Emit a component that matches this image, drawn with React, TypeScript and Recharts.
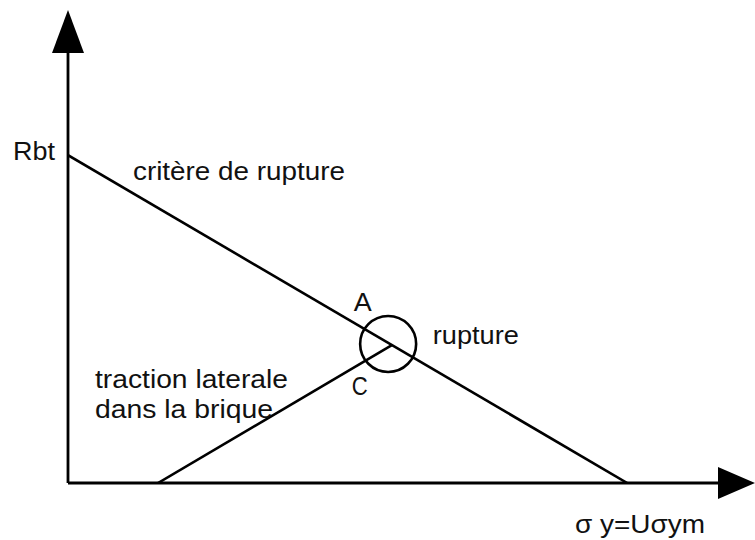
import { LineChart, Line, XAxis, YAxis, ReferenceLine, ReferenceDot } from "recharts";

// Schematic: failure criterion vs lateral tension in the brick (units 0–100 on both axes)
const RBT = 69.3;
const failureLine = [
  { x: 0, y: RBT },
  { x: 81.4, y: 0 },
];
const tractionLine = [
  { x: 13.1, y: 0 },
  { x: 47.2, y: 29.2 },
];
const rupturePoint = { x: 46.6, y: 29.4 };

const labels = [
  { text: "Rbt", x: -8.0, y: 68.3, width: 42 },
  { text: "critère de rupture", x: 9.46, y: 64.06, width: 212 },
  { text: "A", x: 41.6, y: 36.4, width: 18 },
  { text: "rupture", x: 53.1, y: 29.4, width: 86 },
  { text: "C", x: 41.3, y: 18.6, width: 16 },
  { text: "traction laterale", x: 3.93, y: 20.08, width: 193 },
  { text: "dans la brique", x: 3.93, y: 13.74, width: 178 },
  { text: "σ y=Uσym", x: 73.8, y: -10.57, width: 130 },
];

const FONT = "'Liberation Sans', Arial, sans-serif";

function UpArrow({ cx, cy }: { cx?: number; cy?: number }) {
  if (cx == null || cy == null) return null;
  return <polygon points={`${cx},${cy} ${cx - 16},${cy + 43} ${cx + 16},${cy + 43}`} fill="#000" />;
}

function RightArrow({ cx, cy }: { cx?: number; cy?: number }) {
  if (cx == null || cy == null) return null;
  return <polygon points={`${cx},${cy} ${cx - 37},${cy - 16} ${cx - 37},${cy + 16}`} fill="#000" />;
}

export default function App() {
  return (
    <div style={{ position: "absolute", left: 0, top: 0, background: "#fff" }}>
      <LineChart width={755} height={540} margin={{ top: 10, right: 0, bottom: 57, left: 68 }}>
        <XAxis dataKey="x" type="number" domain={[0, 100]} hide allowDataOverflow />
        <YAxis type="number" domain={[0, 100]} hide allowDataOverflow />
        <ReferenceLine
          segment={[{ x: 0, y: 0 }, { x: 96, y: 0 }]}
          stroke="#000"
          strokeWidth={2.8}
          ifOverflow="visible"
        />
        <ReferenceLine
          segment={[{ x: 0, y: 0 }, { x: 0, y: 95 }]}
          stroke="#000"
          strokeWidth={2.8}
          ifOverflow="visible"
        />
        <ReferenceDot x={0} y={100} r={1} shape={UpArrow} ifOverflow="visible" />
        <ReferenceDot x={100} y={0} r={1} shape={RightArrow} ifOverflow="visible" />
        <Line
          data={failureLine}
          dataKey="y"
          type="linear"
          stroke="#000"
          strokeWidth={2.6}
          dot={false}
          isAnimationActive={false}
        />
        <Line
          data={tractionLine}
          dataKey="y"
          type="linear"
          stroke="#000"
          strokeWidth={2.6}
          dot={false}
          isAnimationActive={false}
        />
        <ReferenceDot
          x={rupturePoint.x}
          y={rupturePoint.y}
          r={28}
          fill="none"
          stroke="#000"
          strokeWidth={2.6}
          ifOverflow="visible"
        />
        {labels.map((l) => (
          <ReferenceDot
            key={l.text}
            x={l.x}
            y={l.y}
            r={1}
            ifOverflow="visible"
            shape={(p: { cx?: number; cy?: number }) => (
              <text
                x={p.cx}
                y={p.cy}
                fontFamily={FONT}
                fontSize={25}
                fill="#111"
                textLength={l.width}
                lengthAdjust="spacingAndGlyphs"
              >
                {l.text}
              </text>
            )}
          />
        ))}
      </LineChart>
    </div>
  );
}
